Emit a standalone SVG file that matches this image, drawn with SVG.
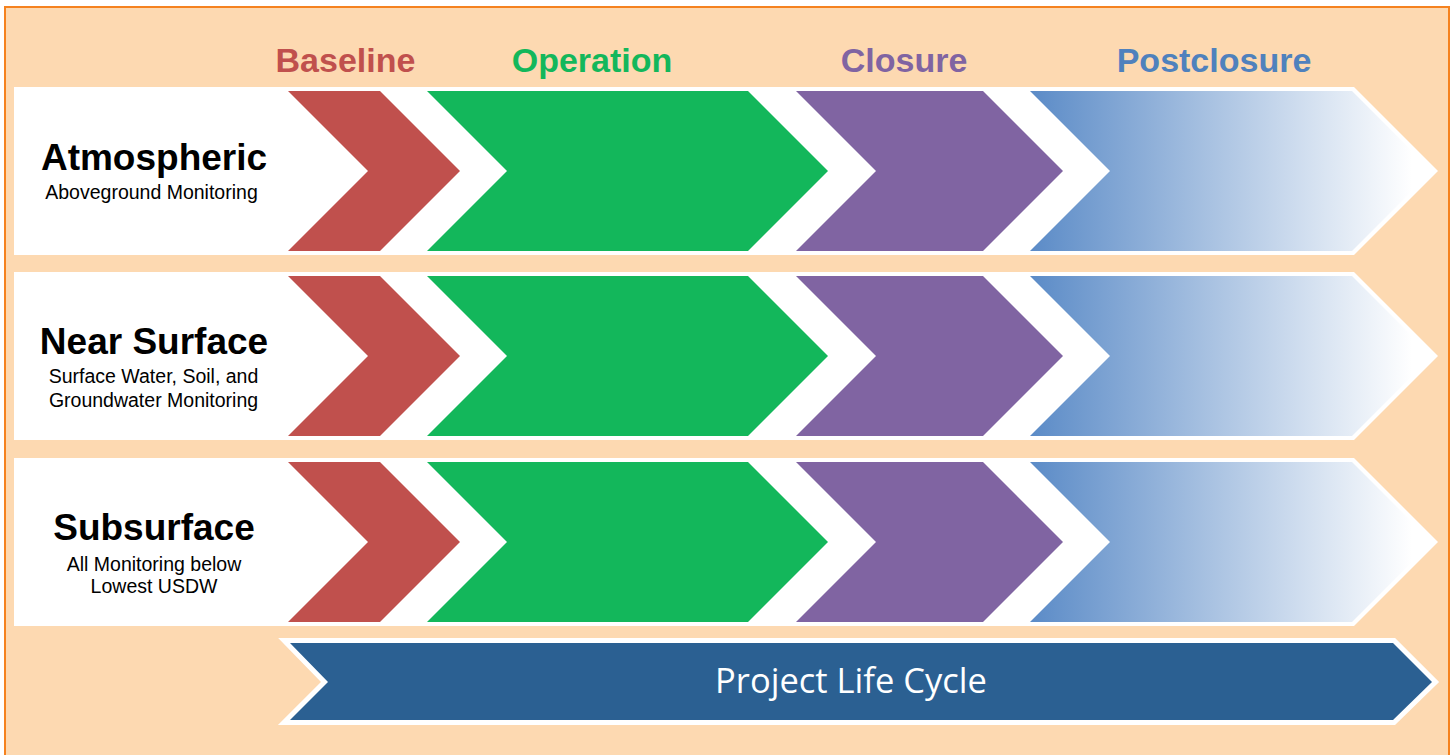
<svg xmlns="http://www.w3.org/2000/svg" width="1455" height="755" viewBox="0 0 1455 755">
  <defs>
    <linearGradient id="pc" x1="0" y1="0" x2="1" y2="0">
      <stop offset="0" stop-color="#5b8bc7"/>
      <stop offset="0.95" stop-color="#ffffff"/>
    </linearGradient>
    <polygon id="rowbg" points="14,87 1354,87 1438,171 1354,255 14,255"/>
    <polygon id="base" points="288,91 380,91 460,171 380,251 288,251 368,171"/>
    <polygon id="oper" points="427,91 748,91 828,171 748,251 427,251 507,171"/>
    <polygon id="clos" points="796,91 983,91 1063,171 983,251 796,251 876,171"/>
    <polygon id="post" points="1030,91 1352,91 1432,171 1352,251 1030,251 1110,171"/>
    <polygon id="plc" points="290,643 1393,643 1432,682 1393,720 290,720 328,682"/>
  </defs>
  <style>
    .hdr { font-family: "Liberation Sans", Arial, sans-serif; font-weight: bold; font-size: 34px; text-anchor: middle; }
    .ttl { font-family: "Liberation Sans", Arial, sans-serif; font-weight: bold; font-size: 37px; text-anchor: middle; fill: #000; }
    .sub { font-family: "Liberation Sans", Arial, sans-serif; font-size: 19.5px; text-anchor: middle; fill: #000; }
    .white { fill: #ffffff; }
    .red { fill: #c0504d; }
    .green { fill: #13b75b; }
    .purple { fill: #8064a2; }
    .grad { fill: url(#pc); }
  </style>
  <rect x="0" y="0" width="1455" height="755" fill="#ffffff"/>
  <rect id="frame" x="5" y="7" width="1444" height="752" fill="#fdd9b1" stroke="#f5821f" stroke-width="2"/>

  <g id="headers">
    <text class="hdr" x="345.5" y="72" fill="#c0504d">Baseline</text>
    <text class="hdr" x="592" y="72" fill="#13b75b">Operation</text>
    <text class="hdr" x="904" y="72" fill="#8064a2">Closure</text>
    <text class="hdr" x="1214" y="72" fill="#4f81bd">Postclosure</text>
  </g>

  <g id="row-atmospheric">
    <use href="#rowbg" class="white"/>
    <use href="#base" class="red"/>
    <use href="#oper" class="green"/>
    <use href="#clos" class="purple"/>
    <use href="#post" class="grad"/>
    <text class="ttl" x="154" y="170">Atmospheric</text>
    <text class="sub" x="151.5" y="199">Aboveground Monitoring</text>
  </g>

  <g id="row-near-surface" transform="translate(0,185)">
    <use href="#rowbg" class="white"/>
    <use href="#base" class="red"/>
    <use href="#oper" class="green"/>
    <use href="#clos" class="purple"/>
    <use href="#post" class="grad"/>
    <text class="ttl" x="154" y="169">Near Surface</text>
    <text class="sub" x="153.5" y="198">Surface Water, Soil, and</text>
    <text class="sub" x="153.5" y="222">Groundwater Monitoring</text>
  </g>

  <g id="row-subsurface" transform="translate(0,371)">
    <use href="#rowbg" class="white"/>
    <use href="#base" class="red"/>
    <use href="#oper" class="green"/>
    <use href="#clos" class="purple"/>
    <use href="#post" class="grad"/>
    <text class="ttl" x="154" y="169">Subsurface</text>
    <text class="sub" x="154" y="200">All Monitoring below</text>
    <text class="sub" x="154" y="222">Lowest USDW</text>
  </g>

  <g id="project-life-cycle">
    <use href="#plc" fill="#ffffff" stroke="#ffffff" stroke-width="10" stroke-linejoin="miter" stroke-miterlimit="10"/>
    <use href="#plc" fill="#2b6092"/>
    <text x="851" y="693" fill="#ffffff" font-family="'Open Sans', 'Noto Sans', sans-serif" font-size="34.5" text-anchor="middle">Project Life Cycle</text>
  </g>

  <g id="connectors"/>
</svg>
